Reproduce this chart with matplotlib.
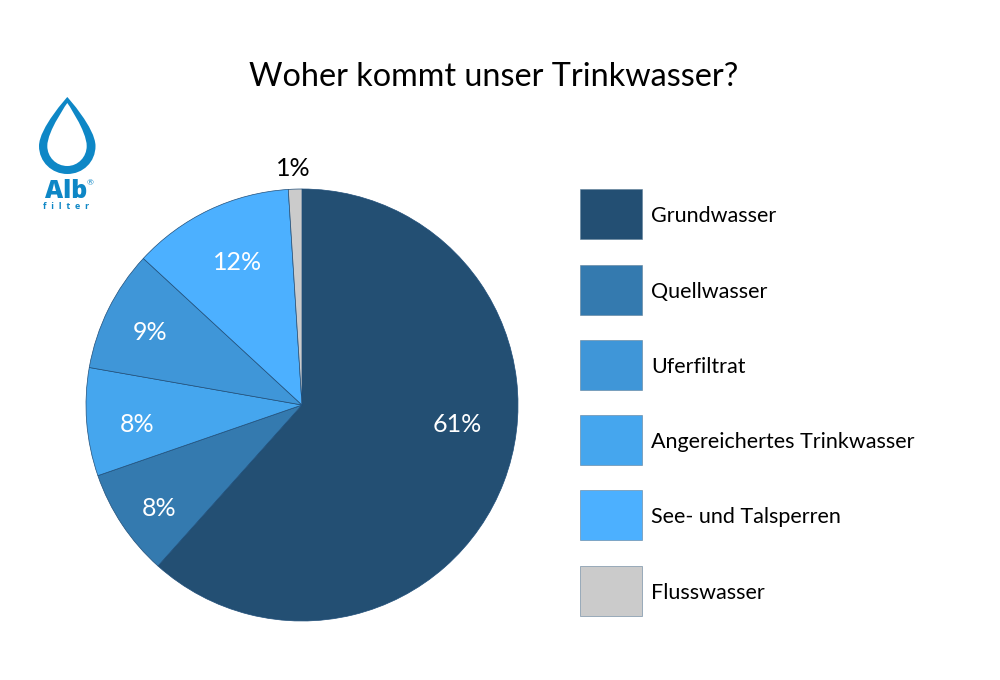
import matplotlib
matplotlib.use("Agg")
import matplotlib.pyplot as plt
from matplotlib.patches import Rectangle, PathPatch
from matplotlib.path import Path

plt.rcParams['font.family'] = ['Lato', 'DejaVu Sans']

# data
title = "Woher kommt unser Trinkwasser?"
categories = ["Grundwasser", "Quellwasser", "Uferfiltrat",
              "Angereichertes Trinkwasser", "See- und Talsperren", "Flusswasser"]
colors = ["#234F73", "#347AAF", "#3F96D8", "#45A6EE", "#4CB0FF", "#CBCBCB"]
# pie runs clockwise from the top, not in legend order
pie_values = [61, 8, 8, 9, 12, 1]
pie_colors = ["#234F73", "#347AAF", "#45A6EE", "#3F96D8", "#4CB0FF", "#CBCBCB"]

# label spots in pixels, picture coordinates
label_xy = [(457, 425), (159, 508), (137, 425), (150, 333), (238, 262), (293, 169)]
label_col = ["white", "white", "white", "white", "white", "black"]
legend_y = [189, 265, 340, 415, 490, 566]

fig = plt.figure(figsize=(10, 6.8), dpi=100, facecolor="white")

# the pie
W, H = 1000.0, 680.0
ax = fig.add_axes([86 / W, 1 - 621 / H, 432 / W, 432 / H])
ax.pie(pie_values, colors=pie_colors, startangle=90, counterclock=False, radius=1,
       wedgeprops=dict(edgecolor="#1F4E79", linewidth=0.5))
ax.set_xlim(-1, 1)
ax.set_ylim(-1, 1)

# overlay in pixels for title, legend and logo
ov = fig.add_axes([0, 0, 1, 1], zorder=5)
ov.set_xlim(0, W)
ov.set_ylim(H, 0)
ov.axis("off")

ov.text(494, 77, title, ha="center", va="center", fontsize=23.3, color="black")

for v, (x, y), c in zip(pie_values, label_xy, label_col):
    ov.text(x, y, f"{v}%", ha="center", va="center", fontsize=18, color=c)

for name, y, c in zip(categories, legend_y, colors):
    ov.add_patch(Rectangle((580, y), 62, 50, facecolor=c, edgecolor="#5f7f99", linewidth=0.4))
    ov.text(651, y + 27, name, ha="left", va="center", fontsize=15.5, color="black")

# logo: drop, inner outline runs the other way so it stays a hole
logo = "#0E87C6"
C = Path.CURVE4
outer = [(67.3, 97), (67.3, 97), (39, 128), (39, 146), (39, 162), (52, 174), (67.3, 174),
         (83, 174), (95.5, 162), (95.5, 146), (95.5, 128), (67.3, 97), (67.3, 97)]
inner = [(67.3, 103), (67.3, 103), (86.7, 131), (86.7, 146), (86.7, 157), (78, 166), (67.3, 166),
         (56, 166), (47.3, 157), (47.3, 146), (47.3, 131), (67.3, 103), (67.3, 103)]
codes = [Path.MOVETO] + [C] * 12 + [Path.MOVETO] + [C] * 12
ov.add_patch(PathPatch(Path(outer + inner, codes), facecolor=logo, edgecolor="none"))
# baseline alignment keeps the two logo lines clear of each other
ov.text(66, 198, "Alb", ha="center", va="baseline", fontsize=18, fontweight="black",
        family=["Open Sans", "DejaVu Sans"], color=logo)
ov.text(90, 183, "®", ha="center", va="center", fontsize=6, color=logo)
ov.text(66.5, 209, "f  i  l  t  e  r", ha="center", va="baseline", fontsize=6.5, fontweight="bold",
        family=["Open Sans", "DejaVu Sans"], color=logo)

fig.savefig("out.png", dpi=100)
